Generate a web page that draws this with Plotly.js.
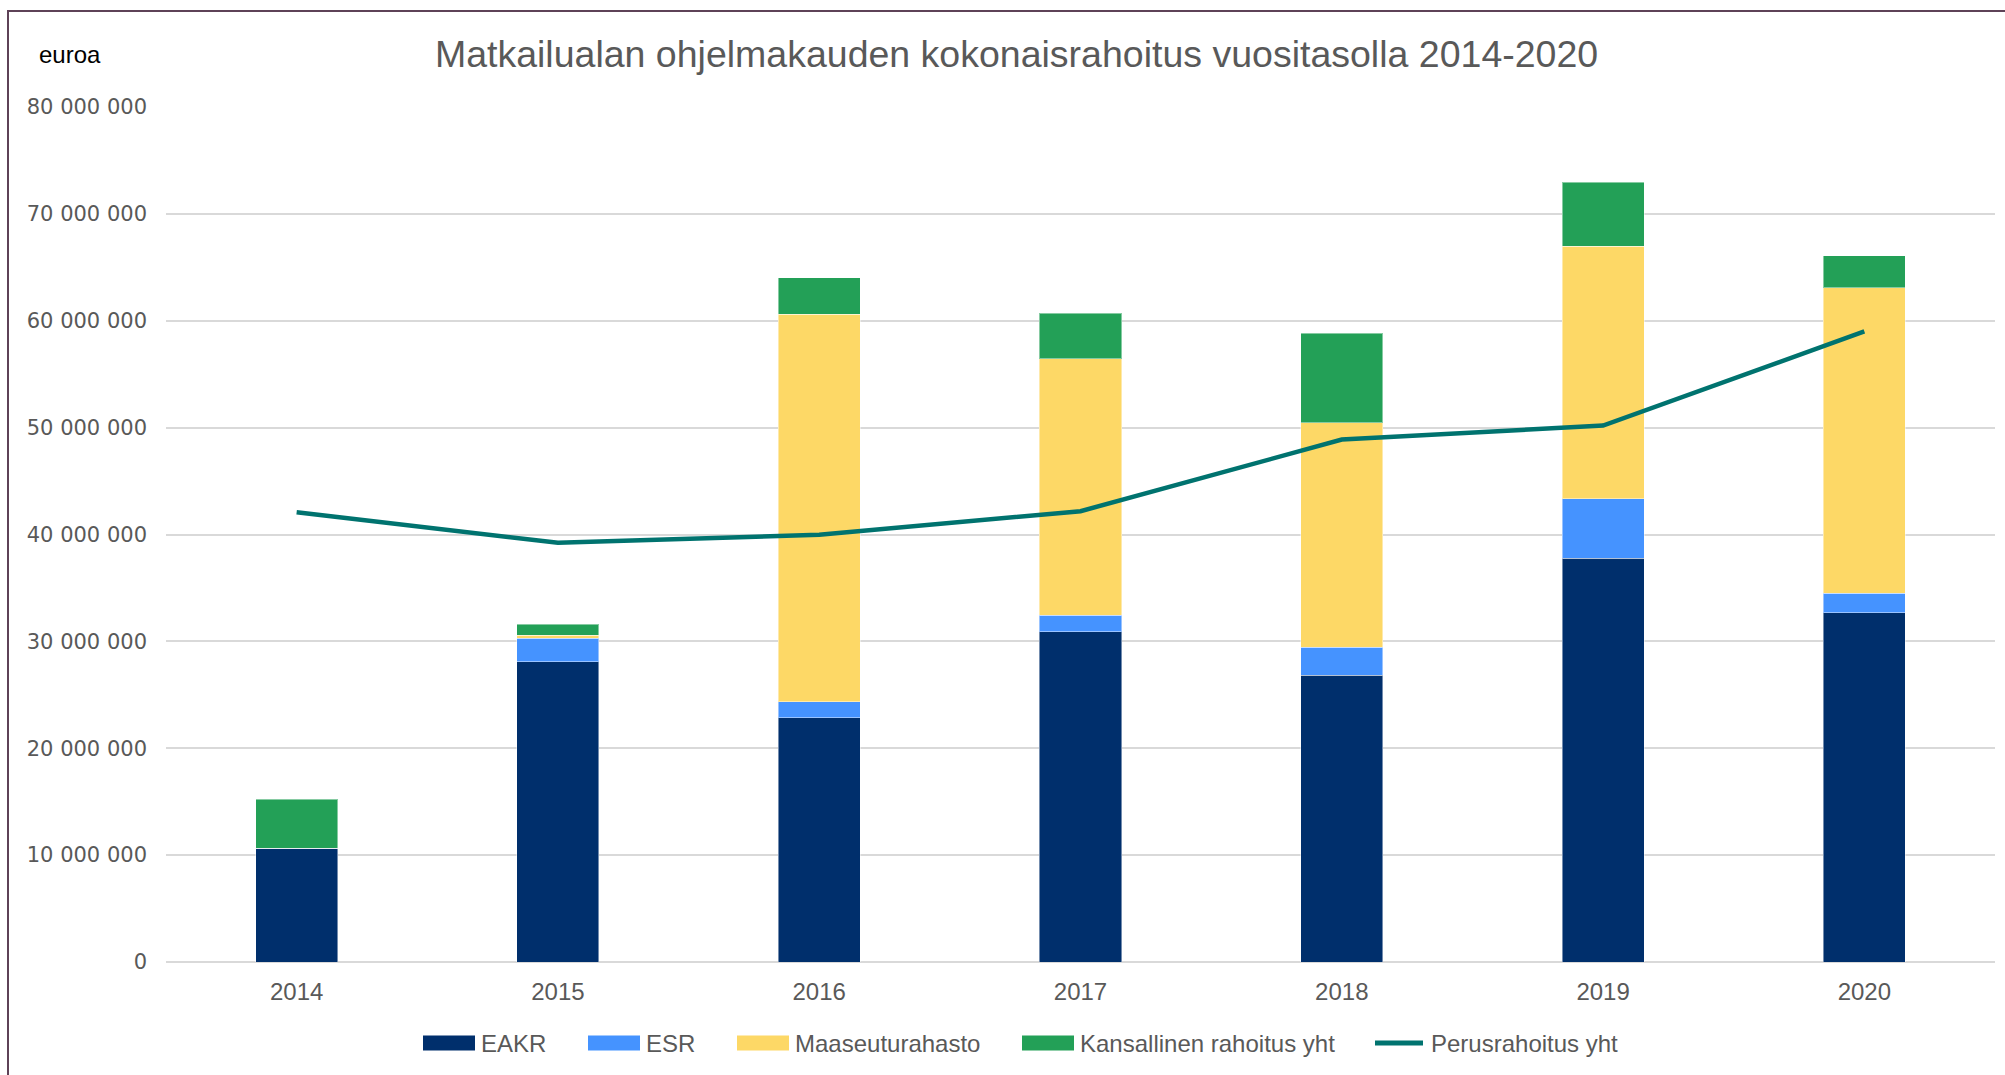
<!DOCTYPE html>
<html>
<head>
<meta charset="utf-8">
<script src="https://cdn.plot.ly/plotly-3.0.1.min.js"></script>
<style>
  html, body { margin: 0; padding: 0; background: #ffffff; }
  #wrap { position: relative; width: 2005px; height: 1075px; overflow: hidden; }
  #chart { position: absolute; left: 0; top: 0; width: 2005px; height: 1075px; }
  #frame { position: absolute; left: 7px; top: 10px; width: 2100px; height: 1200px;
           border-left: 2px solid #5e4257; border-top: 2px solid #5e4257; pointer-events: none; }
</style>
</head>
<body>
<div id="wrap">
  <div id="chart"></div>
  <div id="frame"></div>
</div>
<script>
// Data (euroa)
const years = ['2014', '2015', '2016', '2017', '2018', '2019', '2020'];
const eakr = [10630000, 28100000, 22870000, 30900000, 26850000, 37790000, 32680000];
const esr = [0, 2180000, 1460000, 1530000, 2620000, 5570000, 1810000];
const maaseutu = [0, 280000, 36300000, 24020000, 20970000, 23610000, 28590000];
const kansallinen = [4600000, 1030000, 3400000, 4230000, 8410000, 5970000, 2990000];
const perusrahoitus = [42080000, 39220000, 39970000, 42180000, 48880000, 50190000, 59000000];
const yTicks = [0, 10000000, 20000000, 30000000, 40000000, 50000000, 60000000, 70000000, 80000000];
const seriesNames = ['EAKR', 'ESR', 'Maaseuturahasto', 'Kansallinen rahoitus yht', 'Perusrahoitus yht'];
const seriesColors = ['#002f6c', '#4593ff', '#fdd866', '#23a057', '#00736f'];

// plot area geometry (pixels)
const PL = 166, PR = 1995, PT = 107, PB = 962;
const px2x = p => (p - PL) / (PR - PL);
const px2y = p => (PB - p) / (PB - PT);

const barLine = { color: 'rgba(255,255,255,0.45)', width: 1 };
const barSeries = [eakr, esr, maaseutu, kansallinen];
const traces = barSeries.map((vals, i) => ({
  type: 'bar', name: seriesNames[i], x: years, y: vals,
  marker: { color: seriesColors[i], line: barLine }
}));
traces.push({ type: 'scatter', mode: 'lines', name: seriesNames[4], x: years, y: perusrahoitus,
  line: { color: seriesColors[4], width: 4.5 } });

// custom legend (wide swatches like the original)
const legSwatchLeft = [423, 588, 737, 1022, 1373];
const legY = 1043;
const shapes = [];
const annotations = [];
seriesNames.forEach((name, i) => {
  const x0 = legSwatchLeft[i], x1 = x0 + 52;
  if (i < 4) {
    shapes.push({ type: 'rect', xref: 'paper', yref: 'paper',
      x0: px2x(x0), x1: px2x(x1), y0: px2y(legY + 7.5), y1: px2y(legY - 7.5),
      fillcolor: seriesColors[i], line: { width: 0 } });
  } else {
    shapes.push({ type: 'line', xref: 'paper', yref: 'paper',
      x0: px2x(x0 + 2), x1: px2x(x1 - 2), y0: px2y(legY), y1: px2y(legY),
      line: { color: seriesColors[i], width: 5 } });
  }
  annotations.push({ text: name, xref: 'paper', yref: 'paper', x: px2x(x1 + 4), y: px2y(legY),
    xanchor: 'left', yanchor: 'middle', showarrow: false,
    font: { size: 24, color: '#595959', family: 'Liberation Sans, Arial, sans-serif' } });
});
annotations.push({ text: 'euroa', xref: 'paper', yref: 'paper', x: px2x(37), y: px2y(55),
  xanchor: 'left', yanchor: 'middle', showarrow: false,
  font: { size: 24, color: '#000000', family: 'Liberation Sans, Arial, sans-serif' } });

const layout = {
  width: 2005, height: 1075,
  paper_bgcolor: 'rgba(0,0,0,0)', plot_bgcolor: 'rgba(0,0,0,0)',
  margin: { l: PL, r: 2005 - PR, t: PT, b: 1075 - PB },
  barmode: 'stack',
  bargap: 0.686,
  separators: ', ',
  font: { family: 'Liberation Sans, Arial, sans-serif', color: '#595959' },
  title: {
    text: 'Matkailualan ohjelmakauden kokonaisrahoitus vuositasolla 2014-2020',
    font: { family: 'Liberation Sans, Arial, sans-serif', size: 37.5, color: '#595959' },
    x: 0.507, xanchor: 'center', xref: 'container',
    y: 1 - 54 / 1075, yanchor: 'middle', yref: 'container'
  },
  xaxis: {
    type: 'category',
    showgrid: false, zeroline: false, showline: false,
    ticks: '', tickfont: { size: 24, color: '#595959' },
    ticklabelstandoff: 13
  },
  yaxis: {
    range: [0, 80000000],
    tickvals: yTicks, tickformat: ',d',
    showgrid: true, gridcolor: '#d9d9d9', gridwidth: 2,
    zeroline: true, zerolinecolor: '#d9d9d9', zerolinewidth: 2,
    showline: false, ticks: '',
    tickfont: { family: 'DejaVu Sans, sans-serif', size: 21, color: '#595959' },
    ticklabelstandoff: 18
  },
  shapes: shapes,
  annotations: annotations,
  showlegend: false
};

Plotly.newPlot('chart', traces, layout, { displayModeBar: false, staticPlot: true });
</script>
</body>
</html>
